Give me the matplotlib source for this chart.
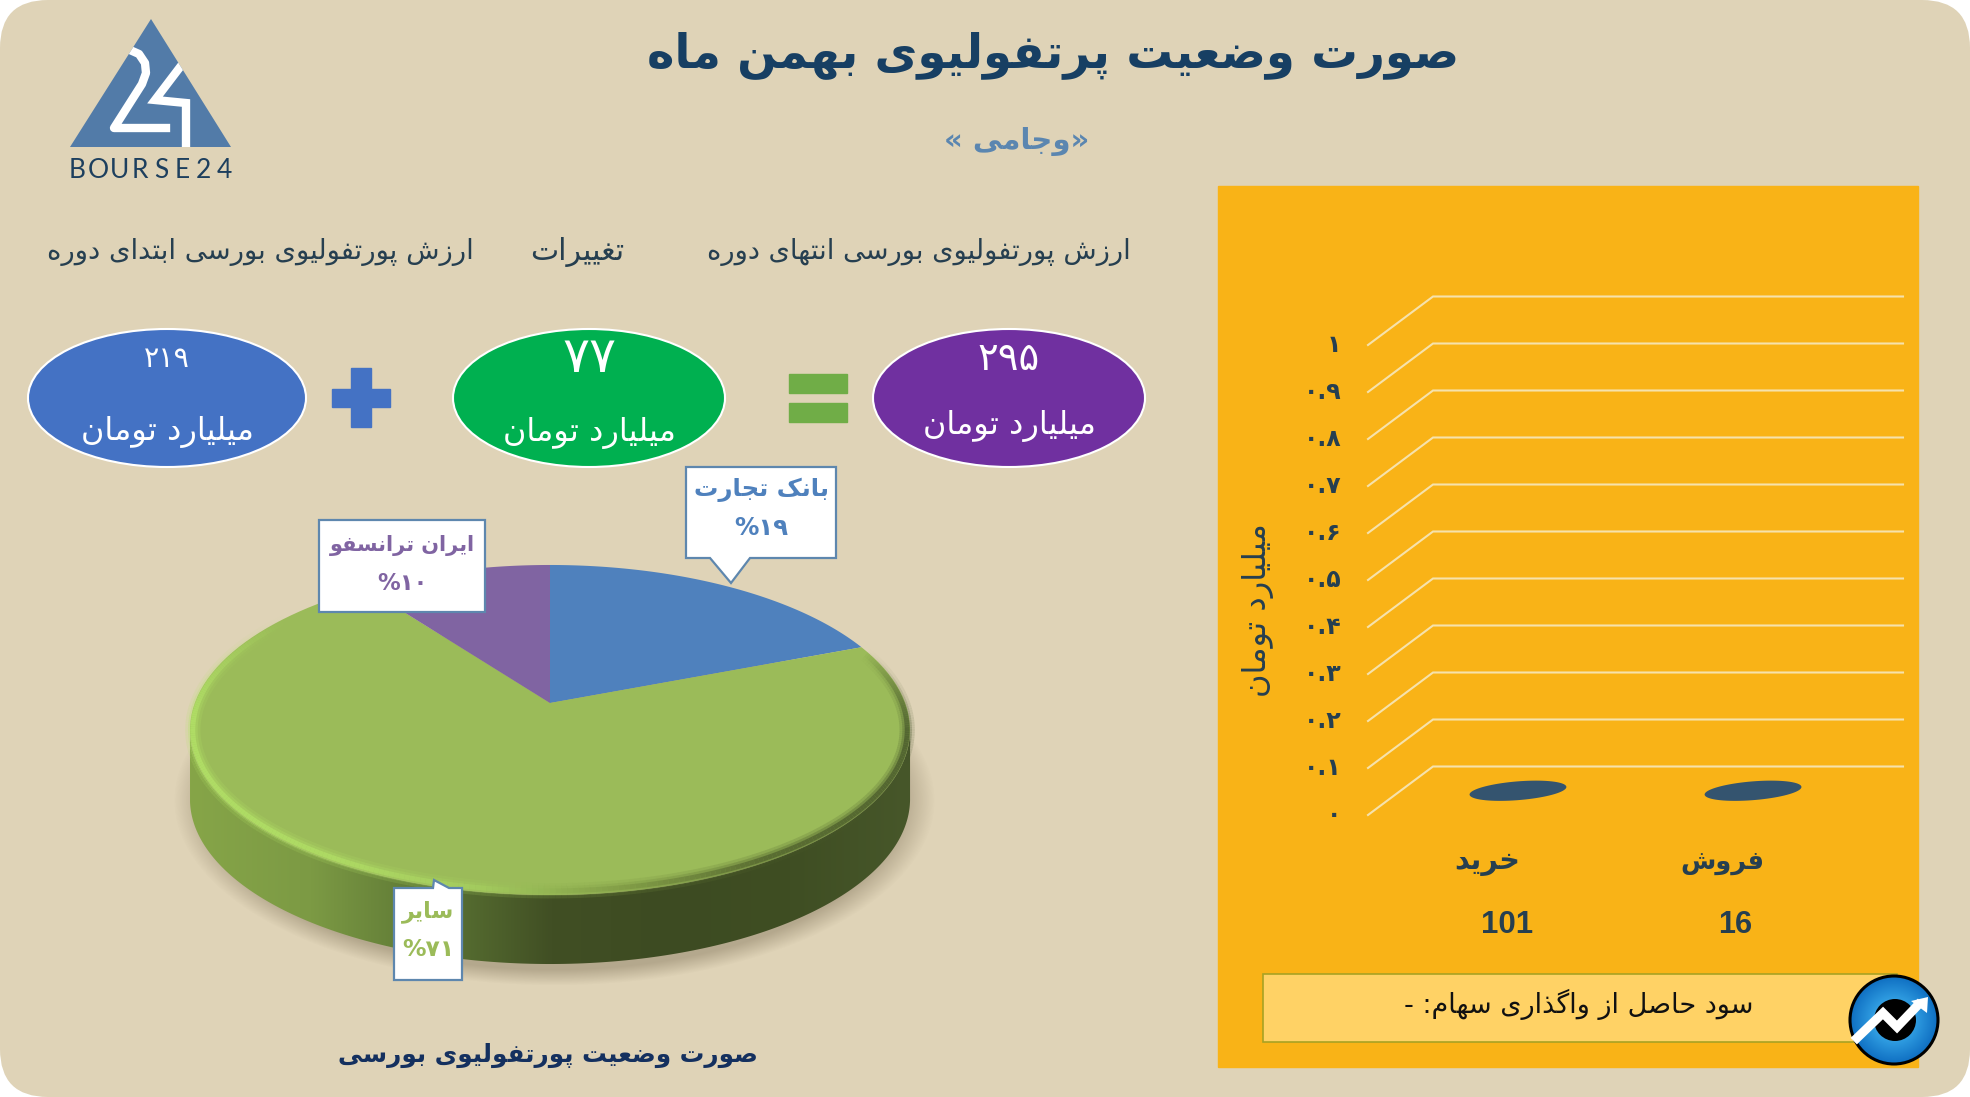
"""Portfolio status card: 3D style pie, flat bar panel, Persian labels."""
import numpy as np
import matplotlib
matplotlib.use("Agg")
import matplotlib.pyplot as plt
from matplotlib.collections import LineCollection
from matplotlib.colors import LinearSegmentedColormap
from matplotlib.patches import Ellipse, FancyBboxPatch, Polygon

W, H = 1970, 1097

TITLE = "صورت وضعیت پرتفولیوی بهمن ماه"
SYMBOL = "وجامی"
CAPTION = "صورت وضعیت پورتفولیوی بورسی"
UNIT = "میلیارد تومان"
PROFIT = "سود حاصل از واگذاری سهام: -"

HEADERS = ["ارزش پورتفولیوی بورسی ابتدای دوره", "تغییرات", "ارزش پورتفولیوی بورسی انتهای دوره"]
BUBBLE_VALUES = ["۲۱۹", "۷۷", "۲۹۵"]

PIE_NAMES = ["بانک تجارت", "سایر", "ایران ترانسفو"]
PIE_SHARES = [19, 71, 10]
PIE_LABELS = ["%۱۹", "%۷۱", "%۱۰"]

BAR_NAMES = ["خرید", "فروش"]
BAR_VALUES = [0, 0]
BAR_TOTALS = ["101", "16"]
Y_TICKS = [0, 0.1, 0.2, 0.3, 0.4, 0.5, 0.6, 0.7, 0.8, 0.9, 1]
Y_LABELS = ["۰", "۰.۱", "۰.۲", "۰.۳", "۰.۴", "۰.۵", "۰.۶", "۰.۷", "۰.۸", "۰.۹", "۱"]

BG = "#DFD3B7"
ORANGE = "#F9B317"
NAVY = "#173F63"
SLATE = "#263F50"
PIE_COLORS = ["#4F81BD", "#9BBB59", "#8064A2"]

# isolated, final, initial, medial presentation forms
FORMS = {c: tuple(range(b, b + 4)) for c, b in {
    "ب": 0xFE8F, "ت": 0xFE95, "ث": 0xFE99, "ج": 0xFE9D, "ح": 0xFEA1, "خ": 0xFEA5,
    "س": 0xFEB1, "ش": 0xFEB5, "ص": 0xFEB9, "ض": 0xFEBD, "ط": 0xFEC1, "ظ": 0xFEC5,
    "ع": 0xFEC9, "غ": 0xFECD, "ف": 0xFED1, "ق": 0xFED5, "ل": 0xFEDD, "م": 0xFEE1,
    "ن": 0xFEE5, "ه": 0xFEE9, "پ": 0xFB56, "چ": 0xFB7A, "ک": 0xFB8E, "گ": 0xFB92,
    "ی": 0xFBFC}.items()}
RIGHT_ONLY = {"ا": 0xFE8D, "د": 0xFEA9, "ذ": 0xFEAB, "ر": 0xFEAD, "ز": 0xFEAF,
              "و": 0xFEED, "ژ": 0xFB8A}


def fa(text):
    # matplotlib has no bidi or shaping, so do it by hand
    out = []
    for i, c in enumerate(text):
        prev = text[i - 1] if i else " "
        nxt = text[i + 1] if i + 1 < len(text) else " "
        joined_prev = prev in FORMS
        if c in RIGHT_ONLY:
            out.append(chr(RIGHT_ONLY[c] + (1 if joined_prev else 0)))
        elif c in FORMS:
            joined_next = nxt in FORMS or nxt in RIGHT_ONLY
            idx = {(0, 0): 0, (1, 0): 1, (0, 1): 2, (1, 1): 3}[(int(joined_prev), int(joined_next))]
            out.append(chr(FORMS[c][idx]))
        else:
            out.append(c)
    return "".join(reversed(out))


fig = plt.figure(figsize=(W / 100, H / 100), dpi=100, facecolor="white")
ax = fig.add_axes([0, 0, 1, 1])
ax.set_xlim(0, W)
ax.set_ylim(H, 0)
ax.autoscale(False)
ax.axis("off")
renderer = fig.canvas.get_renderer()


def put(x, y, s, width, color, weight="normal", family="DejaVu Sans", rotation=0, target=None, z=20):
    # draw text, then scale the size so it spans the wanted pixel width
    t = (target or ax).text(x, y, s, color=color, fontweight=weight, family=family, fontsize=20,
                            ha="center", va="center", rotation=rotation, zorder=z)
    bb = t.get_window_extent(renderer)
    t.set_fontsize(20 * width / (bb.height if rotation else bb.width))
    return t


ax.add_patch(FancyBboxPatch((45, 45), W - 90, H - 90, boxstyle="round,pad=45,rounding_size=48",
                            fc=BG, ec="none", zorder=0))

# ---- logo ----
tri = Polygon([(151, 19), (70, 147), (231, 147)], fc="#527BA8", ec="none", zorder=2)
ax.add_patch(tri)
two, = ax.plot([120, 130, 139, 145, 146, 142, 114, 166], [49, 50, 54, 63, 73, 84, 128, 128],
               color="white", lw=6, zorder=3, solid_joinstyle="round")
four, = ax.plot([190, 155, 186, 186], [54, 100, 103, 155], color="white", lw=6, zorder=3,
                solid_joinstyle="miter")
two.set_clip_path(tri)
four.set_clip_path(tri)
for letter, lx in zip("BOURSE24", np.linspace(77, 224, 8)):
    ax.text(lx, 170, letter, color="#1D3F5E", fontsize=19, family="Lato", ha="center", va="center", zorder=3)

# ---- titles ----
put(1053, 55, fa(TITLE), 813, NAVY, "bold")
put(1017, 141, "« " + fa(SYMBOL) + "»", 145, "#5B86B0", "bold")
put(548, 1055, fa(CAPTION), 420, "#14305F", "bold")

for text, cx, width in zip(HEADERS, [260, 577, 919], [425, 94, 422]):
    put(cx, 252, fa(text), width, SLATE)

# ---- equation row ----
for value, cx, width, color, num_y, unit_y, num_w in zip(
        BUBBLE_VALUES, [167, 589, 1009], [278, 272, 272], ["#4472C4", "#00B050", "#7030A0"],
        [359, 358, 359], [432, 433, 426], [46, 54, 62]):
    ax.add_patch(Ellipse((cx, 398), width, 138, fc=color, ec="white", lw=1.5, zorder=3))
    put(cx, num_y, value, num_w, "white")
    put(cx, unit_y, fa(UNIT), 172, "white")
ax.fill([351, 371, 371, 390, 390, 371, 371, 351, 351, 332, 332, 351],
        [368, 368, 389, 389, 407, 407, 427, 427, 407, 407, 389, 389], color="#4472C4", zorder=3)
for top in (374, 403):
    ax.fill([789, 847, 847, 789], [top, top, top + 19, top + 19], color="#70AD47", zorder=3)

# ---- pie: circle projected with a small perspective so the apex sits above centre ----
PIE_X, PIE_Y, PIE_R, PIE_S, PIE_K, PIE_DEPTH = 550, 703, 355.2, 160.6, 0.1636, 69


def project(theta):
    u, v = np.sin(theta), np.cos(theta)
    den = 1 + PIE_K * v
    return PIE_X + PIE_R * u / den, PIE_Y - PIE_S * v / den


# soft shadow under the disc
gx, gy = np.meshgrid(np.arange(130, 980), np.arange(560, 1010))
dist = np.hypot((gx - 554) / 366, (gy - 800) / 178)
shade = np.zeros(gx.shape + (4,))
shade[..., :3] = (0.35, 0.30, 0.2)
shade[..., 3] = 0.32 * np.clip((1.04 - dist) / 0.09, 0, 1)
ax.imshow(shade, extent=(130, 980, 1010, 560), aspect="auto", zorder=3)

# side wall
rim = np.radians(np.linspace(99, 261, 200))
rx, ry = project(rim)
wall = Polygon(np.r_[np.c_[rx, ry], np.c_[rx[::-1], ry[::-1] + PIE_DEPTH]], fc="none", ec="none",
               transform=ax.transData, zorder=4)
ax.add_patch(wall)
side_cmap = LinearSegmentedColormap.from_list(
    "side", ["#86A548", "#7C9A44", "#5C7634", "#414F24", "#3D4B22", "#3F4E23", "#47572A"])
side = ax.imshow(np.linspace(0, 1, 256)[None, :], cmap=side_cmap, extent=(190, 912, 980, 700),
                 aspect="auto", zorder=4)
side.set_clip_path(wall)

# top face, clockwise from twelve o'clock
start = 0.0
for share, color in zip(PIE_SHARES, PIE_COLORS):
    end = start + share / sum(PIE_SHARES) * 2 * np.pi
    px, py = project(np.linspace(start, end, 120))
    ax.fill(np.r_[PIE_X, px], np.r_[PIE_Y, py], color=color, ec="none", zorder=5)
    start = end

# bevel on the rim, slightly inset and fading out towards the back
deg = np.linspace(70, 305, 300)
rx, ry = project(np.radians(deg))
pts = np.c_[550 + (rx - 550) * 0.992, 728 + (ry - 728) * 0.975]
segs = np.stack([pts[:-1], pts[1:]], axis=1)
rim_cmap = LinearSegmentedColormap.from_list("rim", ["#B4E468", "#B2E066", "#A6CF60", "#7F9A45", "#4E5F2B", "#45552A"])
rim_cols = rim_cmap((pts[:-1, 0] - 190) / 720)
rim_fade = np.clip(np.minimum((deg[:-1] - 70) / 30, (305 - deg[:-1]) / 40), 0, 1)
for lw, a in [(11, 0.18), (7, 0.3), (3.5, 0.7)]:
    cols = rim_cols.copy()
    cols[:, 3] = a * rim_fade
    ax.add_collection(LineCollection(segs, colors=cols, linewidths=lw, zorder=6))

# ---- pie callouts ----
CALLOUTS = [
    [(686, 467), (836, 467), (836, 558), (750, 558), (731, 583), (710, 558), (686, 558)],
    [(394, 888), (433, 888), (434, 880), (449, 888), (462, 888), (462, 980), (394, 980)],
    [(319, 520), (485, 520), (485, 612), (319, 612)],
]
NAME_POS = [(761, 490, 135), (428, 912, 52), (402, 546, 145)]
VALUE_POS = [(761, 528, 54), (428, 950, 52), (402, 584, 50)]
for shape, name, label, color, np_, vp in zip(CALLOUTS, PIE_NAMES, PIE_LABELS, PIE_COLORS, NAME_POS, VALUE_POS):
    ax.add_patch(Polygon(shape, fc="white", ec="#5E87AE", lw=1.6, zorder=8))
    put(np_[0], np_[1], fa(name), np_[2], color, "bold", z=9)
    put(vp[0], vp[1], label, vp[2], color, "bold", z=9)

# ---- orange panel ----
ax.fill([1218, 1918, 1918, 1218], [186, 186, 1067, 1067], color=ORANGE, zorder=1)
ax.add_patch(Polygon([(1263, 974), (1897, 974), (1897, 1042), (1263, 1042)], fc="#FFD265", ec="#A8A224",
                     lw=1.2, zorder=3))
put(1579, 1004, fa(PROFIT), 350, "#111111", z=4)

# flat bar chart with fake depth
LEFT, RIGHT, BASE, TOP = 1368, 1903, 815, 345
ax_bar = fig.add_axes([LEFT / W, 1 - BASE / H, (RIGHT - LEFT) / W, (BASE - TOP) / H])
ax_bar.patch.set_visible(False)
for s in ax_bar.spines.values():
    s.set_visible(False)
ax_bar.set_xlim(-0.638, 1.638)
ax_bar.set_ylim(0, 1)
ax_bar.set_xticks([])
ax_bar.set_yticks(Y_TICKS)
ax_bar.set_yticklabels(Y_LABELS, fontsize=17, color=SLATE, fontweight="bold", va="center")
ax_bar.tick_params(axis="y", length=0, pad=19)
depth_x, depth_y = 0.2766, 0.1032
for tick in Y_TICKS:
    ax_bar.plot([-0.638, -0.638 + depth_x, 1.638], [tick, tick + depth_y, tick + depth_y],
                color="#F6E2AC", lw=1.5, clip_on=False, solid_joinstyle="miter")
t = np.linspace(0, 2 * np.pi, 80)
for i, v in enumerate(BAR_VALUES):
    ax_bar.fill(i + 0.206 * np.cos(t), v + depth_y / 2 + 0.02 * np.sin(t) + 0.008 * np.cos(t),
                color="#34546F", ec="none", zorder=3)
    put(i - 0.13, -0.1, fa(BAR_NAMES[i]), [66, 84][i], SLATE, "bold", target=ax_bar)
    put(i - [0.045, 0.077][i], -0.235, BAR_TOTALS[i], [52, 34][i], SLATE, "bold", "Liberation Sans", target=ax_bar)
put(1258, 610, fa(UNIT), 174, SLATE, rotation=90)

# ---- round badge ----
badge = Ellipse((1894, 1020), 88, 88, fc="none", ec="none", zorder=5)
ax.add_patch(badge)
bx, by = np.meshgrid(np.linspace(-1, 1, 90), np.linspace(-1, 1, 90))
badge_cmap = LinearSegmentedColormap.from_list("badge", ["#8ED2F7", "#2E9BE0", "#0F6FC2"])
glow = ax.imshow(np.clip(np.hypot(bx, by), 0, 1), cmap=badge_cmap, aspect="auto",
                 extent=(1850, 1938, 1064, 976), zorder=5)
glow.set_clip_path(badge)
ax.add_patch(Ellipse((1894, 1020), 88, 88, fc="none", ec="black", lw=2.2, zorder=7))
ax.add_patch(Ellipse((1895, 1020), 42, 42, fc="black", ec="none", zorder=6))
ax.plot([1857, 1883, 1897, 1918], [1038, 1013, 1027, 1005], color="white", lw=6.5, zorder=7,
        solid_joinstyle="miter")
ax.add_patch(Polygon([(1928, 997), (1911, 1001), (1927, 1013)], fc="white", ec="none", zorder=7))

fig.savefig("out.png", dpi=100, facecolor="white")
